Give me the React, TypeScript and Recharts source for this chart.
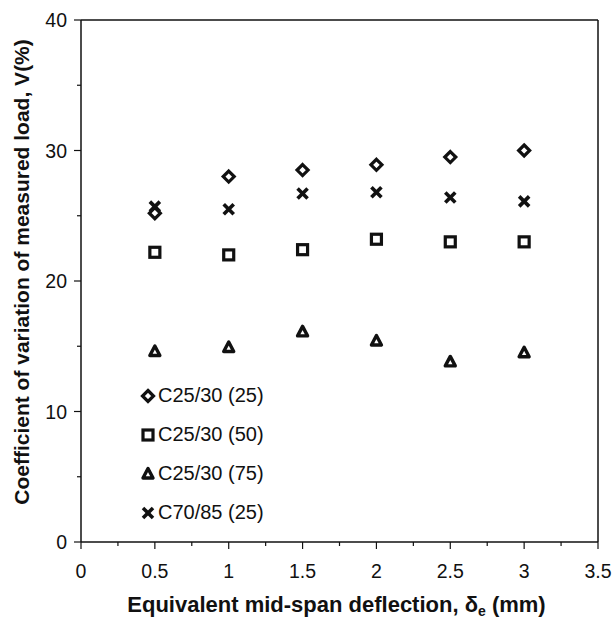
import React from "react";
import { ScatterChart, Scatter, XAxis, YAxis, ReferenceLine, Legend } from "recharts";

// Equivalent mid-span deflection (mm)
const deflection = [0.5, 1, 1.5, 2, 2.5, 3];

// Coefficient of variation of measured load, V (%)
const c2530_25 = [25.2, 28.0, 28.5, 28.9, 29.5, 30.0];
const c2530_50 = [22.2, 22.0, 22.4, 23.2, 23.0, 23.0];
const c2530_75 = [14.6, 14.9, 16.1, 15.4, 13.8, 14.5];
const c7085_25 = [25.7, 25.5, 26.7, 26.8, 26.4, 26.1];

const xTicks = [0, 0.25, 0.5, 0.75, 1, 1.25, 1.5, 1.75, 2, 2.25, 2.5, 2.75, 3, 3.25, 3.5];
const yTicks = [0, 5, 10, 15, 20, 25, 30, 35, 40];

const INK = "#111";
const FONT = "'Liberation Sans', Arial, sans-serif";

type Kind = "diamond" | "square" | "triangle" | "cross";

const SERIES: { name: string; kind: Kind; values: number[] }[] = [
  { name: "C25/30 (25)", kind: "diamond", values: c2530_25 },
  { name: "C25/30 (50)", kind: "square", values: c2530_50 },
  { name: "C25/30 (75)", kind: "triangle", values: c2530_75 },
  { name: "C70/85 (25)", kind: "cross", values: c7085_25 },
];

const toPoints = (values: number[]) => deflection.map((x, i) => ({ x, y: values[i] }));

function Marker({ kind, cx, cy }: { kind: Kind; cx: number; cy: number }) {
  switch (kind) {
    case "diamond":
      return (
        <polygon
          points={`${cx},${cy - 5.5} ${cx + 5.5},${cy} ${cx},${cy + 5.5} ${cx - 5.5},${cy}`}
          fill="none"
          stroke={INK}
          strokeWidth={3.2}
        />
      );
    case "square":
      return <rect x={cx - 5} y={cy - 5} width={10} height={10} fill="none" stroke={INK} strokeWidth={3.2} />;
    case "triangle":
      return (
        <polygon
          points={`${cx},${cy - 5.5} ${cx + 5},${cy + 4} ${cx - 5},${cy + 4}`}
          fill="none"
          stroke={INK}
          strokeWidth={3.4}
          strokeLinejoin="round"
        />
      );
    default:
      return (
        <g stroke={INK} strokeWidth={3.6}>
          <line x1={cx - 5} y1={cy - 5} x2={cx + 5} y2={cy + 5} />
          <line x1={cx - 5} y1={cy + 5} x2={cx + 5} y2={cy - 5} />
        </g>
      );
  }
}

// ticks: majors get labels and a longer mark, minors a short mark only
// (tickSize 8 + tickMargin 4 => axis line sits 12px from the label anchor)
const XTick = (props: any) => {
  const { x, y, payload } = props;
  const major = Math.abs(payload.value * 2 - Math.round(payload.value * 2)) < 1e-6;
  const axisY = y - 12;
  return (
    <g>
      <line x1={x} x2={x} y1={axisY} y2={axisY + (major ? 7 : 4)} stroke={INK} strokeWidth={1.2} />
      {major && (
        <text x={x} y={axisY + 36} textAnchor="middle" fontFamily={FONT} fontSize={19.5} fill={INK}>
          {payload.value}
        </text>
      )}
    </g>
  );
};

const YTick = (props: any) => {
  const { x, y, payload } = props;
  const major = payload.value % 10 === 0;
  const axisX = x + 12;
  return (
    <g>
      <line x1={axisX - (major ? 7 : 4)} x2={axisX} y1={y} y2={y} stroke={INK} strokeWidth={1.2} />
      {major && (
        <text x={axisX - 14} y={y + 7} textAnchor="end" fontFamily={FONT} fontSize={19.5} fill={INK}>
          {payload.value}
        </text>
      )}
    </g>
  );
};

const XTitle = (props: any) => {
  const { x, y, width } = props.viewBox;
  return (
    <text x={x + width / 2 - 3} y={y + 70} textAnchor="middle" fontFamily={FONT} fontSize={22} fontWeight="bold" fill={INK}>
      Equivalent mid-span deflection, δ
      <tspan dy={4} fontSize={14}>e</tspan>
      <tspan dy={-4}> (mm)</tspan>
    </text>
  );
};

const YTitle = (props: any) => {
  const { x, y, height } = props.viewBox;
  const cx = x + 29;
  const cy = y + height / 2 - 9;
  return (
    <text
      x={cx}
      y={cy}
      transform={`rotate(-90 ${cx} ${cy})`}
      textAnchor="middle"
      fontFamily={FONT}
      fontSize={21}
      fontWeight="bold"
      fill={INK}
    >
      Coefficient of variation of measured load, V(%)
    </text>
  );
};

const LegendBox = () => (
  <div style={{ fontFamily: FONT, fontSize: 20, color: INK }}>
    {SERIES.map((s) => (
      <div key={s.name} style={{ display: "flex", alignItems: "center", height: 39 }}>
        <svg width={16} height={16} style={{ marginRight: 2 }}>
          <Marker kind={s.kind} cx={8} cy={8} />
        </svg>
        <span>{s.name}</span>
      </div>
    ))}
  </div>
);

export default function App() {
  return (
    <div style={{ position: "absolute", left: 0, top: 0, background: "#fff" }}>
      <ScatterChart width={613} height={619} margin={{ top: 20, right: 15, bottom: 0, left: 0 }}>
        <XAxis
          type="number"
          dataKey="x"
          domain={[0, 3.5]}
          ticks={xTicks}
          interval={0}
          height={77}
          tickSize={8}
          tickMargin={4}
          tickLine={false}
          tick={<XTick />}
          axisLine={{ stroke: INK, strokeWidth: 1.5 }}
          label={<XTitle />}
          allowDataOverflow
        />
        <YAxis
          type="number"
          dataKey="y"
          domain={[0, 40]}
          ticks={yTicks}
          interval={0}
          width={81}
          tickSize={8}
          tickMargin={4}
          tickLine={false}
          tick={<YTick />}
          axisLine={{ stroke: INK, strokeWidth: 1.5 }}
          label={<YTitle />}
          allowDataOverflow
        />
        <ReferenceLine y={40} stroke={INK} strokeWidth={1.5} />
        <ReferenceLine x={3.5} stroke={INK} strokeWidth={1.5} />
        <Legend
          layout="vertical"
          align="center"
          verticalAlign="middle"
          content={<LegendBox />}
          wrapperStyle={{ left: 140, top: 376, width: "auto", height: "auto" }}
        />
        {SERIES.map((s) => (
          <Scatter
            key={s.name}
            name={s.name}
            data={toPoints(s.values)}
            isAnimationActive={false}
            shape={(p: any) => <Marker kind={s.kind} cx={p.cx} cy={p.cy} />}
          />
        ))}
      </ScatterChart>
    </div>
  );
}
